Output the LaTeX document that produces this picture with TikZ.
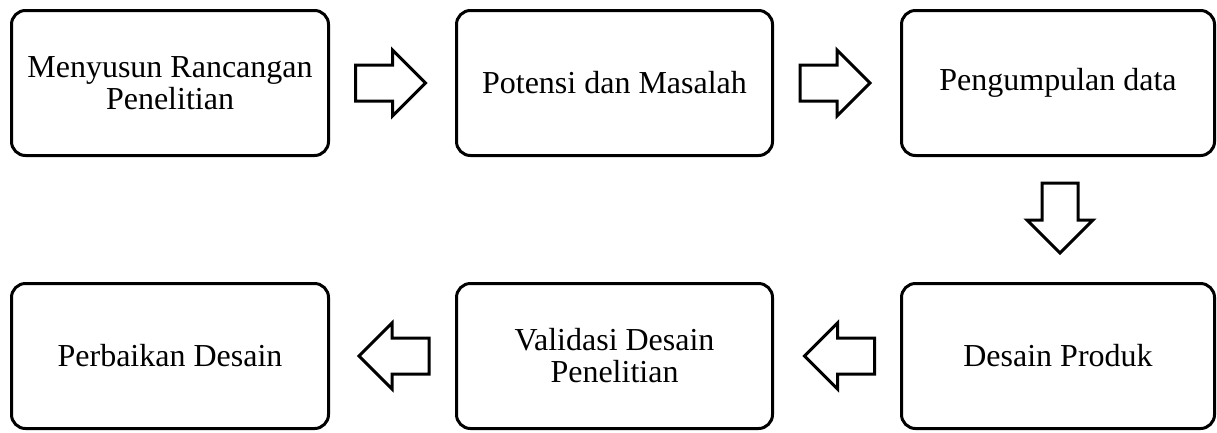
\documentclass[tikz,border=0pt]{standalone}
\usepackage{fontspec}
\setmainfont{Liberation Serif}
\begin{document}
\begin{tikzpicture}[x=1pt,y=-1pt,
  stage/.style={draw=black,line width=3pt,rounded corners=14pt,inner sep=0pt,
    align=center,minimum height=145pt,font=\fontsize{32}{32}\selectfont},
  blockarrow/.pic={\draw[line width=3pt,line join=miter,fill=white]
    (-35,-18) -- (2,-18) -- (2,-33) -- (35,0) -- (2,33) -- (2,18) -- (-35,18) -- cycle;}]
\useasboundingbox (0,0) rectangle (1217,432);
\node[stage,minimum width=317pt] (b1) at (170,83) {Menyusun Rancangan\\Penelitian};
\node[stage,minimum width=316pt] (b2) at (614.5,83) {Potensi dan Masalah};
\node[stage,minimum width=313pt] (b3) at (1058,83) {Pengumpulan data};
\node[stage,minimum width=313pt] (b4) at (1058,356) {Desain Produk};
\node[stage,minimum width=316pt] (b5) at (614.5,356) {Validasi Desain\\Penelitian};
\node[stage,minimum width=317pt] (b6) at (170,356) {Perbaikan Desain};
\pic at (390.5,83) {blockarrow};
\pic at (835,83) {blockarrow};
\pic[rotate=-90] at (1060,218) {blockarrow};
\pic[rotate=180] at (839.5,356) {blockarrow};
\pic[rotate=180] at (394,356) {blockarrow};
\end{tikzpicture}
\end{document}
